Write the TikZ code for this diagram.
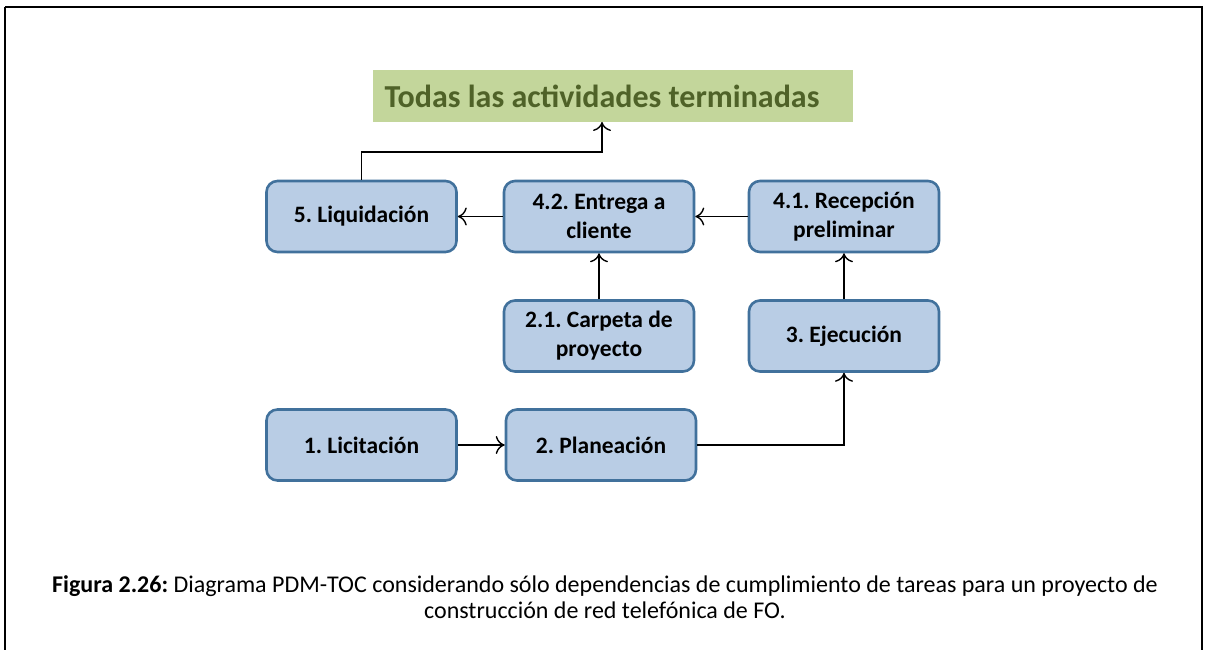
\documentclass[tikz,border=0pt]{standalone}
\usepackage{fontspec}
\setmainfont{Carlito}
\frenchspacing
\usetikzlibrary{arrows.meta}
\definecolor{boxfill}{HTML}{B9CDE5}
\definecolor{boxdraw}{HTML}{41719C}
\definecolor{greenfill}{HTML}{C3D69B}
\definecolor{greentext}{HTML}{4F6228}
\tikzset{
  task/.style={draw=boxdraw, fill=boxfill, line width=2.6pt, rounded corners=11pt,
    minimum width=190pt, minimum height=71pt, align=center, font=\fontsize{23.5}{29}\selectfont\bfseries},
  goal/.style={fill=greenfill, minimum width=480pt, minimum height=52pt, text=greentext,
    font=\fontsize{32}{38}\selectfont\bfseries},
  conn/.style={line width=1.4pt, -{To[length=9pt,width=18pt,line width=1.4pt]}},
  frame/.style={draw=black, line width=2.5pt}
}
\begin{document}
\begin{tikzpicture}[x=1pt,y=-1pt]
\useasboundingbox (0,0) rectangle (1210,650);
\draw[frame] (5,7) -- (5,660) (5,7) -- (1202,7) -- (1202,660);
\node[goal] (goal) at (613,96) {Todas las actividades terminadas\hspace*{22pt}};
\node[task] (liq) at (361.5,216.5) {5. Liquidación};
\node[task] (ent) at (599,216.5) {4.2. Entrega a\\cliente};
\node[task] (rec) at (844,216.5) {4.1. Recepción\\preliminar};
\node[task] (car) at (599,336) {2.1. Carpeta de\\proyecto};
\node[task] (eje) at (844,336) {3. Ejecución};
\node[task] (lic) at (361.5,445) {1. Licitación};
\node[task] (pla) at (601,445) {2. Planeación};
\coordinate (g) at (602,122);
\draw[conn] (liq.north) |- (602,152) -- (g);
\draw[conn] (ent.west) -- (liq.east);
\draw[conn] (rec.west) -- (ent.east);
\draw[conn] (car.north) -- (ent.south);
\draw[conn] (eje.north) -- (rec.south);
\draw[conn] (lic.east) -- (pla.west);
\draw[conn] (pla.east) -| (eje.south);
\node[font=\fontsize{24}{26}\selectfont, align=center] (cap) at (605,597)
 {\textbf{Figura 2.26:} Diagrama PDM-TOC considerando sólo dependencias de cumplimiento de tareas para un proyecto de\\construcción de red telefónica de FO.};
\end{tikzpicture}
\end{document}
